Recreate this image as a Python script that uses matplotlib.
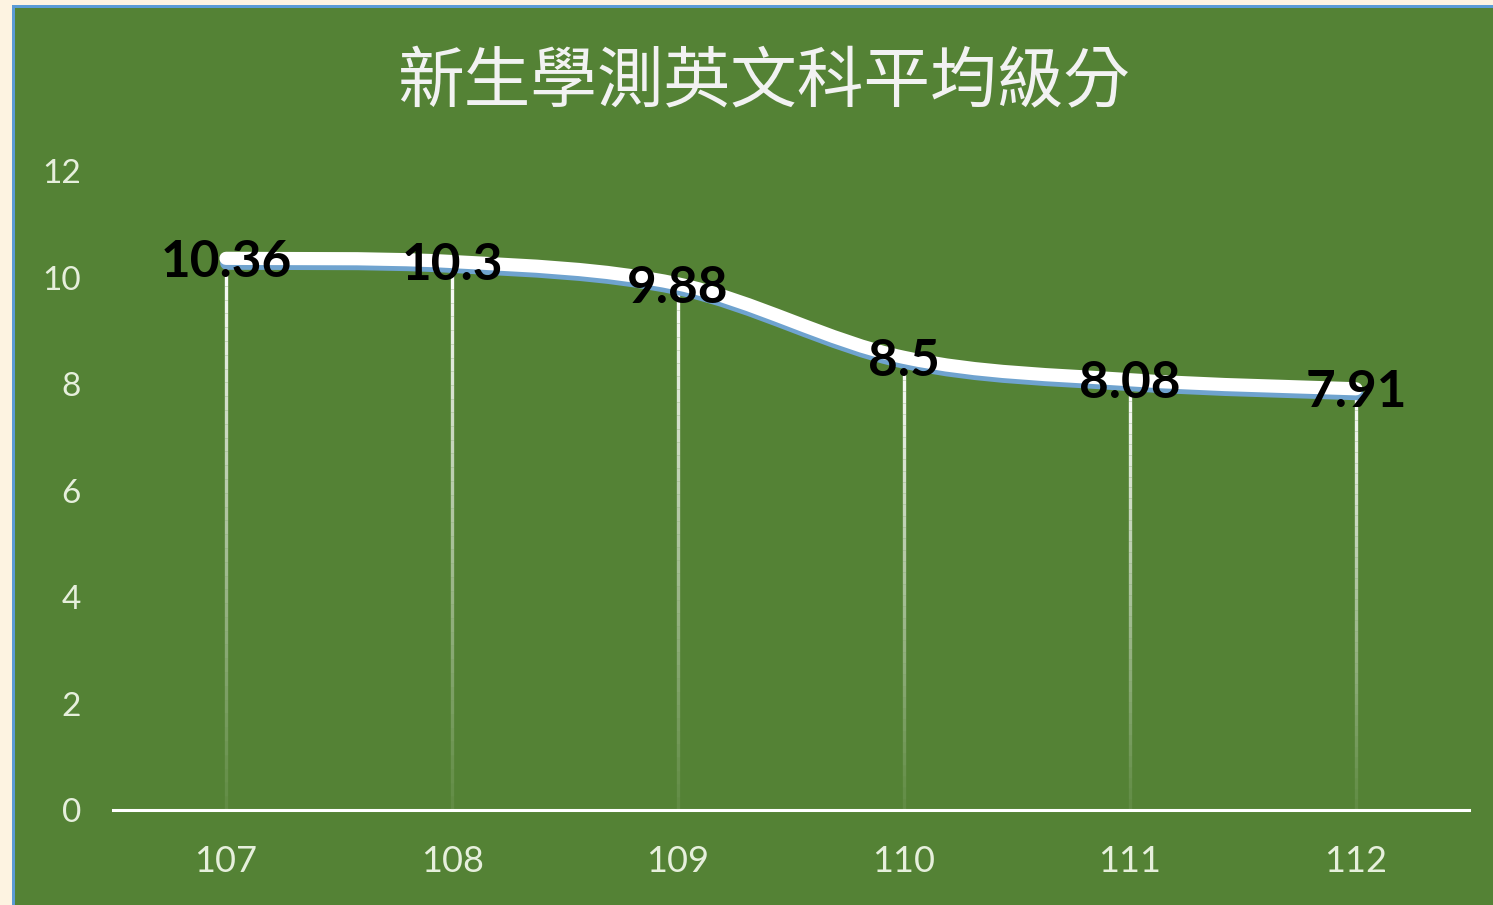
import numpy as np
import matplotlib
matplotlib.use("Agg")
import matplotlib.pyplot as plt
import matplotlib.patheffects as pe
from matplotlib.path import Path
from matplotlib.patches import PathPatch, Rectangle

# data
years = ["107", "108", "109", "110", "111", "112"]
scores = [10.36, 10.3, 9.88, 8.5, 8.08, 7.91]
yticks = [0, 2, 4, 6, 8, 10, 12]
title = "新生學測英文科平均級分"

green = "#548235"
tick_col = "#E6EFDC"

fig = plt.figure(figsize=(14.93, 9.05), dpi=100, facecolor="#FDF3E1")
# blue frame + green chart area
fig.patches.append(Rectangle((12/1493, 0), 1, 1 - 5/905, transform=fig.transFigure,
                             facecolor="#5B9BD5", edgecolor="none", zorder=-2))
fig.patches.append(Rectangle((15/1493, 0), 1, 1 - 8/905, transform=fig.transFigure,
                             facecolor=green, edgecolor="none", zorder=-1))

ax = fig.add_axes([113/1493, 1 - 810/905, 1356/1493, (810 - 171)/905])
ax.set_zorder(1)
ax.set_facecolor("none")
x = np.arange(len(years))
ax.set_xlim(-0.5, len(years) - 0.5)
ax.set_ylim(0, 12)

# drop lines, fading towards the axis
for xi, v in zip(x, scores):
    n = 40
    edges = np.linspace(0, v, n + 1)
    for k in range(n):
        a = 0.08 + 0.92 * (k / (n - 1)) ** 1.1
        ax.plot([xi, xi], [edges[k], edges[k + 1]], color="white", lw=2.4,
                alpha=a, solid_capstyle="butt", zorder=2)

# smoothed line (bezier through the points, like Excel's smoothing)
pts = np.column_stack([x, scores]).astype(float)
ext = np.vstack([pts[0], pts, pts[-1]])
verts = [tuple(pts[0])]
codes = [Path.MOVETO]
for i in range(len(pts) - 1):
    p0, p1, p2, p3 = ext[i], ext[i + 1], ext[i + 2], ext[i + 3]
    c1 = p1 + (p2 - p0) / 6
    c2 = p2 - (p3 - p1) / 6
    verts += [tuple(c1), tuple(c2), tuple(p2)]
    codes += [Path.CURVE4] * 3
line = PathPatch(Path(verts, codes), fill=False, edgecolor="white", lw=9.5,
                 capstyle="round", joinstyle="round", zorder=3,
                 path_effects=[pe.SimpleLineShadow(offset=(0.5, -3.5), shadow_color="#6FA3CF",
                                                   alpha=1, rho=1), pe.Normal()])
ax.add_patch(line)

# data labels
for xi, v in zip(x, scores):
    ax.annotate(f"{v:g}", (xi, v), xytext=(0, -3), textcoords="offset points",
                ha="center", va="center", fontsize=37, fontweight="bold",
                family="Lato", color="black", zorder=5)

for s in ["top", "right", "left"]:
    ax.spines[s].set_visible(False)
ax.spines["bottom"].set_color("white")
ax.spines["bottom"].set_linewidth(2.2)

ax.set_xticks(x)
ax.set_xticklabels(years, fontsize=26, family="Lato", color=tick_col)
ax.set_yticks(yticks)
ax.set_yticklabels([str(t) for t in yticks], fontsize=24, family="Lato", color=tick_col)
ax.tick_params(axis="x", length=0, pad=25)
ax.tick_params(axis="y", length=0, pad=23)

fig.text(763/1493, 1 - 84/905, title, ha="center", va="center", fontsize=48,
         family=["Noto Sans CJK TC", "DejaVu Sans"], color="#F2F2F2")

fig.savefig("out.png", dpi=100, facecolor=fig.get_facecolor())
